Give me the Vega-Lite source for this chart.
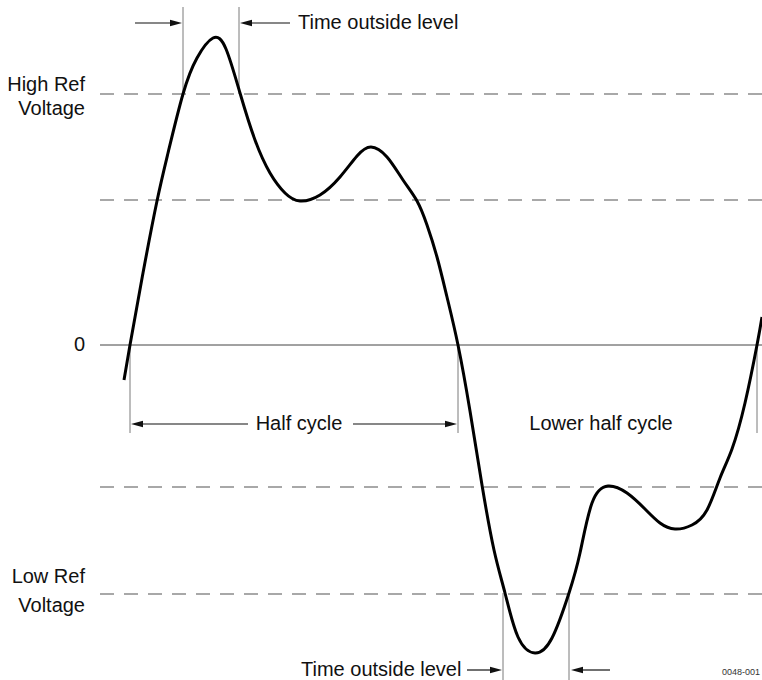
{
  "$schema": "https://vega.github.io/schema/vega-lite/v6.json",
  "width": 762,
  "height": 680,
  "autosize": {"type": "none"},
  "padding": 0,
  "background": "white",
  "config": {"view": {"stroke": null}},
  "datasets": {
    "wave": [
      {"t": 124, "v": -35}, {"t": 130, "v": 0}, {"t": 143, "v": 72}, {"t": 157, "v": 144},
      {"t": 168, "v": 192}, {"t": 183, "v": 251}, {"t": 197, "v": 287}, {"t": 213, "v": 307},
      {"t": 226, "v": 296}, {"t": 240, "v": 252}, {"t": 255, "v": 205}, {"t": 270, "v": 172},
      {"t": 285, "v": 152}, {"t": 300, "v": 144}, {"t": 320, "v": 150}, {"t": 340, "v": 168},
      {"t": 357, "v": 189}, {"t": 371, "v": 198}, {"t": 387, "v": 188}, {"t": 403, "v": 165},
      {"t": 417, "v": 144}, {"t": 427, "v": 120}, {"t": 437, "v": 88}, {"t": 447, "v": 48},
      {"t": 458, "v": 0}, {"t": 470, "v": -66},
      {"t": 482, "v": -140}, {"t": 494, "v": -205}, {"t": 505, "v": -248}, {"t": 518, "v": -292},
      {"t": 535, "v": -308}, {"t": 552, "v": -293}, {"t": 569, "v": -248}, {"t": 580, "v": -208},
      {"t": 592, "v": -158}, {"t": 608, "v": -141}, {"t": 627, "v": -148}, {"t": 645, "v": -164},
      {"t": 660, "v": -178}, {"t": 675, "v": -184}, {"t": 692, "v": -180}, {"t": 707, "v": -165},
      {"t": 720, "v": -133}, {"t": 732, "v": -104}, {"t": 745, "v": -58}, {"t": 757, "v": 0}, {"t": 762, "v": 28}
    ],
    "levels": [
      {"t1": 100, "t2": 762, "v": 251},
      {"t1": 100, "t2": 762, "v": 145},
      {"t1": 100, "t2": 762, "v": -142},
      {"t1": 100, "t2": 762, "v": -249}
    ],
    "markers": [
      {"t": 183, "v1": 338, "v2": 251},
      {"t": 239, "v1": 338, "v2": 251},
      {"t": 130, "v1": 0, "v2": -88},
      {"t": 458, "v1": 0, "v2": -88},
      {"t": 757, "v1": 0, "v2": -88},
      {"t": 503, "v1": -248, "v2": -335},
      {"t": 569, "v1": -248, "v2": -335}
    ],
    "shafts": [
      {"t1": 135, "t2": 176, "v": 322},
      {"t1": 246, "t2": 290, "v": 322},
      {"t1": 137, "t2": 248, "v": -79},
      {"t1": 353, "t2": 450, "v": -79},
      {"t1": 467, "t2": 495, "v": -325},
      {"t1": 578, "t2": 610, "v": -325}
    ],
    "headsRight": [
      {"t": 182, "v": 322},
      {"t": 457, "v": -79},
      {"t": 502, "v": -325}
    ],
    "headsLeft": [
      {"t": 240, "v": 322},
      {"t": 131, "v": -79},
      {"t": 571, "v": -325}
    ],
    "labelsLeft": [
      {"t": 298, "v": 322, "label": "Time outside level"},
      {"t": 301, "v": -325, "label": "Time outside level"}
    ],
    "labelsCenter": [
      {"t": 299, "v": -79, "label": "Half cycle"},
      {"t": 601, "v": -79, "label": "Lower half cycle"}
    ],
    "labelsRight": [
      {"t": 85, "v": 260, "label": "High Ref"},
      {"t": 85, "v": 236, "label": "Voltage"},
      {"t": 85, "v": 0, "label": "0"},
      {"t": 85, "v": -232, "label": "Low Ref"},
      {"t": 85, "v": -261, "label": "Voltage"}
    ],
    "tag": [
      {"t": 741, "v": -327, "label": "0048-001"}
    ]
  },
  "layer": [
    {
      "data": {"values": [{"t1": 100, "t2": 762, "v": 0}]},
      "mark": {"type": "rule", "color": "#444444", "strokeWidth": 1},
      "encoding": {
        "x": {"field": "t1", "type": "quantitative", "scale": {"domain": [0, 762], "nice": false, "zero": false}, "axis": null},
        "x2": {"field": "t2"},
        "y": {"field": "v", "type": "quantitative", "scale": {"domain": [-335, 345], "nice": false, "zero": false}, "axis": null}
      }
    },
    {
      "data": {"name": "levels"},
      "mark": {"type": "rule", "color": "#8c8c8c", "strokeWidth": 1.5, "strokeDash": [14, 10]},
      "encoding": {
        "x": {"field": "t1", "type": "quantitative"},
        "x2": {"field": "t2"},
        "y": {"field": "v", "type": "quantitative"}
      }
    },
    {
      "data": {"name": "markers"},
      "mark": {"type": "rule", "color": "#7a7a7a", "strokeWidth": 1},
      "encoding": {
        "x": {"field": "t", "type": "quantitative"},
        "y": {"field": "v1", "type": "quantitative"},
        "y2": {"field": "v2"}
      }
    },
    {
      "data": {"name": "shafts"},
      "mark": {"type": "rule", "color": "#111111", "strokeWidth": 1.2},
      "encoding": {
        "x": {"field": "t1", "type": "quantitative"},
        "x2": {"field": "t2"},
        "y": {"field": "v", "type": "quantitative"}
      }
    },
    {
      "data": {"name": "headsRight"},
      "mark": {"type": "point", "shape": "M0,0 L-2,-0.55 L-2,0.55 Z", "size": 144, "filled": true, "color": "#111111", "opacity": 1},
      "encoding": {
        "x": {"field": "t", "type": "quantitative"},
        "y": {"field": "v", "type": "quantitative"}
      }
    },
    {
      "data": {"name": "headsLeft"},
      "mark": {"type": "point", "shape": "M0,0 L2,-0.55 L2,0.55 Z", "size": 144, "filled": true, "color": "#111111", "opacity": 1},
      "encoding": {
        "x": {"field": "t", "type": "quantitative"},
        "y": {"field": "v", "type": "quantitative"}
      }
    },
    {
      "data": {"name": "wave"},
      "mark": {"type": "line", "color": "#000000", "strokeWidth": 3, "interpolate": "natural"},
      "encoding": {
        "x": {"field": "t", "type": "quantitative"},
        "y": {"field": "v", "type": "quantitative"}
      }
    },
    {
      "data": {"name": "labelsLeft"},
      "mark": {"type": "text", "align": "left", "baseline": "middle", "font": "Liberation Sans", "fontSize": 20, "color": "#111111"},
      "encoding": {
        "x": {"field": "t", "type": "quantitative"},
        "y": {"field": "v", "type": "quantitative"},
        "text": {"field": "label"}
      }
    },
    {
      "data": {"name": "labelsCenter"},
      "mark": {"type": "text", "align": "center", "baseline": "middle", "font": "Liberation Sans", "fontSize": 20, "color": "#111111"},
      "encoding": {
        "x": {"field": "t", "type": "quantitative"},
        "y": {"field": "v", "type": "quantitative"},
        "text": {"field": "label"}
      }
    },
    {
      "data": {"name": "labelsRight"},
      "mark": {"type": "text", "align": "right", "baseline": "middle", "font": "Liberation Sans", "fontSize": 20, "color": "#111111"},
      "encoding": {
        "x": {"field": "t", "type": "quantitative"},
        "y": {"field": "v", "type": "quantitative"},
        "text": {"field": "label"}
      }
    },
    {
      "data": {"name": "tag"},
      "mark": {"type": "text", "align": "center", "baseline": "middle", "font": "Liberation Sans", "fontSize": 9, "color": "#333333"},
      "encoding": {
        "x": {"field": "t", "type": "quantitative"},
        "y": {"field": "v", "type": "quantitative"},
        "text": {"field": "label"}
      }
    }
  ]
}
